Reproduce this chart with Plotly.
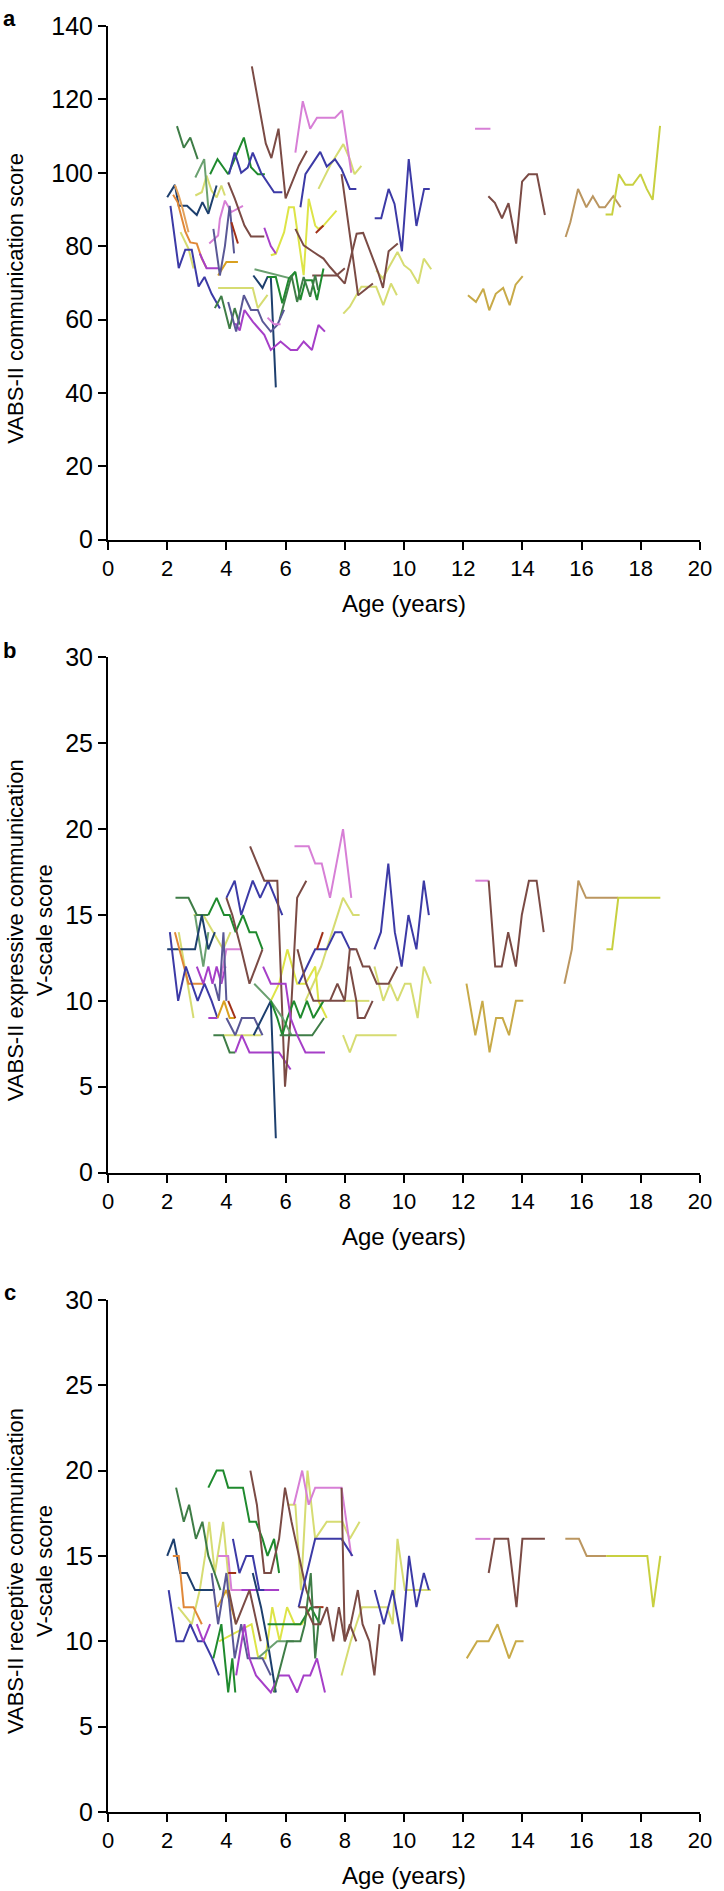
import plotly.graph_objects as go

# ---------------- colours ----------------
COLOR_HEX = {
    "brown": "#7b4b45", "pink": "#d77fd6", "indigo": "#3c3aa6", "dkgreen": "#1f8a2e",
    "mdgreen": "#3f7d47", "sage": "#6aa070", "navy": "#1d3f6e", "orange": "#e08838",
    "orange2": "#e3a25c", "gold": "#d9a020", "purple": "#a63fc8", "slate": "#5a5896",
    "darkred": "#a03018", "yellow": "#dde447", "paleyel": "#d6dc72", "tan": "#bb9660",
    "khaki": "#c8aa48", "oliveyel": "#c8d040",
}

# ---------------- panel a : VABS-II communication score ----------------
A_COLORS = [
    "paleyel", "paleyel", "paleyel", "paleyel", "paleyel", "paleyel", "yellow",
    "sage", "mdgreen", "dkgreen", "indigo", "navy", "indigo", "orange", "orange2",
    "purple", "gold", "pink", "slate", "darkred", "brown", "brown", "pink", "purple",
    "indigo", "brown", "brown", "brown", "darkred", "navy", "sage", "dkgreen",
    "mdgreen", "mdgreen", "purple", "slate", "pink", "indigo", "pink", "brown",
    "khaki", "tan", "oliveyel",
]
A_AGES = [
    [2.45, 2.72, 2.89],
    [2.95, 3.17, 3.33, 3.5, 3.67, 3.83, 3.95],
    [3.72, 4.89, 5.06, 5.39],
    [7.11, 7.5, 7.95, 8.17, 8.33, 8.56],
    [7.95, 8.17, 8.39, 8.56, 9.06, 9.3, 9.56, 9.76],
    [9.06, 9.28, 9.78, 10.0, 10.22, 10.48, 10.67, 10.92],
    [5.5, 5.67, 5.95, 6.11, 6.28, 6.45, 6.61, 6.78, 7.0, 7.11, 7.28, 7.72],
    [2.95, 3.25, 3.4],
    [2.33, 2.56, 2.78, 3.03],
    [3.45, 3.7, 4.06, 4.59, 4.83, 5.06, 5.3],
    [4.09, 4.28, 4.5, 4.72, 4.89, 5.17, 5.61, 5.89],
    [2.0, 2.26, 2.39, 2.67, 3.0, 3.19, 3.39, 3.67],
    [2.11, 2.39, 2.61, 2.83, 3.06, 3.26, 3.5, 3.78],
    [2.2, 2.35, 2.61, 2.78, 3.0, 3.17, 3.33],
    [2.26, 2.39, 2.52, 2.72],
    [3.1, 3.33, 3.72],
    [3.72, 4.0, 4.39],
    [3.42, 3.72, 3.78, 3.95, 4.17, 4.56],
    [3.56, 3.78, 3.95, 4.11, 4.26],
    [4.17, 4.39],
    [4.06, 4.28, 4.61, 4.83, 5.28],
    [4.86, 5.33, 5.52, 5.76, 6.0, 6.45, 6.72],
    [6.33, 6.58, 6.83, 7.06, 7.67, 7.91, 8.22],
    [5.28, 5.5, 5.67],
    [6.5, 6.67, 7.17, 7.39, 7.67, 7.89, 8.17, 8.39],
    [7.89, 8.45, 8.95],
    [6.33, 6.61, 6.94, 7.28, 7.5, 7.78, 8.0, 8.22, 8.4, 8.62, 8.9, 9.12, 9.29, 9.48, 9.79],
    [6.9, 7.72, 8.0],
    [7.02, 7.28],
    [4.91, 5.22, 5.39, 5.5, 5.67],
    [4.95, 6.17, 6.33],
    [5.39, 5.67, 5.89, 6.11, 6.33, 6.5, 6.67, 6.89, 7.06, 7.28],
    [3.61, 3.83, 4.11, 4.28, 4.45],
    [5.8, 6.0, 6.2, 6.39, 6.61, 6.83, 7.0, 7.1],
    [4.3, 4.45, 4.61, 4.89, 5.28, 5.5, 5.83, 6.17, 6.39, 6.61, 6.89, 7.11, 7.33],
    [4.06, 4.33, 4.59, 4.83, 5.06, 5.22, 5.5, 5.72, 5.95],
    [5.39, 5.61, 5.83],
    [9.01, 9.23, 9.48, 9.68, 9.93, 10.16, 10.42, 10.68, 10.87],
    [12.4, 12.92],
    [12.85, 13.07, 13.31, 13.53, 13.79, 13.99, 14.21, 14.49, 14.76],
    [12.16, 12.43, 12.68, 12.88, 13.1, 13.35, 13.57, 13.77, 14.01],
    [15.46, 15.62, 15.88, 16.16, 16.38, 16.6, 16.79, 17.07, 17.32],
    [16.81, 17.03, 17.26, 17.48, 17.73, 17.99, 18.2, 18.4, 18.65],
]
A_SCORES = [
    [83.8, 79.3, 73.9],
    [93.8, 94.7, 99.2, 95.1, 93.3, 96.5, 93.8],
    [68.6, 68.6, 63.1, 66.7],
    [95.6, 101.9, 107.8, 103.7, 99.6, 101.9],
    [61.6, 63.5, 66.6, 68.9, 68.9, 63.9, 69.8, 66.6],
    [73.4, 71.2, 78.4, 74.8, 73.4, 69.8, 76.6, 73.7],
    [77.5, 77.9, 83.8, 90.6, 90.6, 81.1, 72.1, 92.9, 85.6, 84.7, 85.6, 89.7],
    [98.7, 103.7, 89.3],
    [112.7, 106.8, 109.6, 103.7],
    [99.6, 103.7, 99.6, 109.6, 101.5, 99.6, 99.6],
    [99.6, 105.5, 100.0, 101.4, 105.5, 100.0, 94.7, 94.7],
    [93.3, 96.7, 91.0, 91.0, 88.5, 92.0, 88.8, 96.5],
    [91.0, 74.0, 79.0, 79.0, 69.0, 71.6, 67.0, 63.0],
    [94.0, 92.0, 84.0, 81.0, 80.7, 76.6, 74.0],
    [96.6, 93.8, 90.2, 83.8],
    [78.0, 74.0, 74.0],
    [72.0, 75.7, 75.7],
    [80.7, 82.9, 87.4, 92.4, 89.3, 91.0],
    [84.7, 72.0, 80.0, 91.0, 78.0],
    [86.5, 80.7],
    [97.4, 93.0, 85.6, 82.6, 82.6],
    [129.0, 108.0, 104.0, 112.0, 93.0, 102.0, 106.0],
    [105.5, 119.5, 112.0, 115.0, 115.0, 117.0, 100.0],
    [85.0, 80.0, 78.0],
    [90.6, 99.6, 105.7, 101.7, 103.7, 101.0, 95.6, 95.6],
    [99.6, 66.6, 69.8],
    [84.7, 80.2, 78.4, 76.6, 74.3, 71.6, 69.8, 77.5, 83.4, 83.6, 77.9, 73.0, 68.6, 78.6, 80.7],
    [72.0, 72.0, 74.0],
    [83.6, 85.6],
    [72.0, 68.6, 71.6, 71.6, 41.5],
    [73.7, 71.2, 73.0],
    [71.6, 71.6, 64.4, 71.2, 73.0, 65.3, 70.7, 70.7, 65.3, 73.9],
    [63.1, 66.4, 57.5, 63.1, 58.6],
    [60.0, 66.0, 72.0, 64.8, 71.6, 66.2, 72.1, 68.0],
    [59.0, 57.0, 62.6, 59.4, 55.8, 51.7, 54.0, 51.7, 51.7, 54.0, 51.7, 58.5, 56.7],
    [64.8, 56.7, 66.6, 62.6, 62.6, 59.5, 56.7, 58.5, 62.6],
    [60.5, 58.7, 58.7],
    [87.6, 87.6, 95.6, 91.5, 78.6, 103.7, 85.5, 95.6, 95.6],
    [112.0, 112.0],
    [93.6, 91.8, 87.6, 91.7, 80.7, 97.6, 99.6, 99.6, 88.5],
    [66.6, 64.8, 68.4, 62.5, 67.0, 68.6, 63.9, 69.5, 71.8],
    [82.5, 86.5, 95.6, 90.6, 93.6, 90.6, 90.6, 93.6, 90.6],
    [88.6, 88.6, 99.6, 96.7, 96.7, 99.6, 95.6, 92.6, 112.8],
]

# ---------------- panel b : expressive communication V-scale ----------------
B_COLORS = [
    "paleyel", "paleyel", "paleyel", "paleyel", "paleyel", "paleyel", "paleyel", "yellow",
    "mdgreen", "sage", "dkgreen", "navy", "orange", "indigo", "purple", "pink", "slate",
    "purple", "gold", "darkred", "slate", "mdgreen", "purple", "indigo", "brown", "brown",
    "navy", "sage", "dkgreen", "mdgreen", "purple", "pink", "indigo", "brown", "brown",
    "brown", "darkred", "indigo", "pink", "brown", "khaki", "tan", "oliveyel",
]
B_AGES = [
    [2.39, 2.89],
    [2.89, 3.22, 3.89, 4.14],
    [3.89, 5.17],
    [6.67, 7.2, 7.94, 8.28, 8.5],
    [7.94, 8.17, 8.39, 9.75],
    [7.94, 8.83],
    [9.0, 9.3, 9.53, 9.78, 10.03, 10.22, 10.46, 10.67, 10.91],
    [5.5, 5.78, 6.06, 6.39, 6.67, 7.0, 7.11, 7.39],
    [2.28, 2.72, 3.0, 3.39],
    [2.94, 3.22, 3.39],
    [3.39, 3.67, 3.92, 4.11, 4.31, 4.56, 4.78, 5.0, 5.22],
    [2.0, 2.94, 3.17, 3.39, 3.61],
    [2.26, 2.72, 3.28],
    [2.09, 2.37, 2.63, 3.03, 3.26, 3.5, 3.7],
    [3.0, 3.22, 3.39, 3.53, 3.67, 3.83, 3.97],
    [3.78, 4.0, 4.5],
    [3.6, 3.75, 3.9, 4.0],
    [3.39, 3.7],
    [3.7, 3.92, 4.11, 4.3],
    [4.06, 4.3],
    [4.0, 4.3, 4.52, 4.94, 5.22],
    [3.56, 3.89, 4.11, 4.3],
    [4.3, 4.52, 4.78, 4.94, 5.78, 6.17],
    [4.0, 4.28, 4.5, 4.89, 5.14, 5.41, 5.89],
    [4.0, 4.2, 4.5, 4.78, 5.22],
    [4.8, 5.28, 5.72, 5.98, 6.17, 6.39, 6.7],
    [4.92, 5.5, 5.67],
    [4.94, 5.5, 5.9, 6.2],
    [5.5, 5.72, 5.89, 6.06, 6.28, 6.5, 6.72, 6.94, 7.28],
    [5.8, 6.5, 6.9, 7.3],
    [5.24, 5.5, 6.0, 6.17, 6.39, 6.67, 7.33],
    [6.3, 6.78, 7.0, 7.22, 7.5, 7.94, 8.22],
    [6.44, 7.0, 7.39, 7.67, 7.89, 8.17, 8.33],
    [6.4, 6.7, 6.94, 7.5, 8.0],
    [7.5, 7.75, 8.0, 8.17, 8.39, 8.61, 8.83, 9.08, 9.48, 9.78],
    [8.17, 8.39, 8.44, 8.67, 8.94],
    [7.06, 7.26],
    [9.0, 9.22, 9.47, 9.69, 9.92, 10.15, 10.42, 10.67, 10.84],
    [12.41, 12.86],
    [12.86, 13.08, 13.3, 13.52, 13.78, 13.98, 14.22, 14.48, 14.72],
    [12.11, 12.41, 12.65, 12.89, 13.11, 13.33, 13.55, 13.78, 14.03],
    [15.42, 15.67, 15.89, 16.15, 17.23],
    [16.84, 17.03, 17.24, 18.66],
]
B_SCORES = [
    [14, 9],
    [15, 15, 13, 14],
    [8, 8],
    [10, 12, 16, 15, 15],
    [8, 7, 8, 8],
    [10, 10],
    [12, 10, 11, 10, 11, 11, 9, 12, 11],
    [10, 11, 13, 11, 11, 12, 10, 9],
    [16, 16, 15, 15],
    [15, 12, 14],
    [15, 16, 15, 15, 14, 15, 14, 14, 13],
    [13, 13, 15, 13, 14],
    [14, 11, 11],
    [14, 10, 12, 10, 11, 10, 9],
    [12, 11, 12, 11, 12, 11, 12],
    [11, 13, 13],
    [11, 10, 14, 10],
    [9, 9],
    [9, 10, 9, 9],
    [10, 9],
    [9, 8, 9, 9, 8],
    [8, 8, 7, 7],
    [7, 8, 7, 7, 7, 6],
    [16, 17, 15, 17, 16, 17, 15],
    [16, 15, 13, 11, 13],
    [19, 17, 17, 5, 9, 16, 17],
    [8, 10, 2],
    [11, 10, 9, 8],
    [10, 9, 8, 9, 10, 9, 10, 9, 10],
    [8, 8, 8, 9],
    [12, 11, 11, 9, 8, 7, 7],
    [19, 19, 18, 18, 16, 20, 16],
    [11, 13, 13, 14, 14, 13, 13],
    [13, 11, 10, 10, 10],
    [10, 11, 10, 13, 13, 12, 12, 11, 11, 12],
    [12, 10, 9, 9, 10],
    [13, 14],
    [13, 14, 18, 14, 12, 15, 13, 17, 15],
    [17, 17],
    [17, 12, 12, 14, 12, 15, 17, 17, 14],
    [11, 8, 10, 7, 9, 9, 8, 10, 10],
    [11, 13, 17, 16, 16],
    [13, 13, 16, 16],
]

# ---------------- panel c : receptive communication V-scale ----------------
C_COLORS = [
    "paleyel", "paleyel", "paleyel", "yellow", "mdgreen", "dkgreen", "navy", "orange",
    "indigo", "purple", "pink", "purple", "gold", "darkred", "darkred", "dkgreen", "slate",
    "brown", "indigo", "navy", "purple", "sage", "brown", "pink", "indigo", "dkgreen",
    "mdgreen", "brown", "brown", "indigo", "pink", "brown", "khaki", "tan", "oliveyel",
]
C_AGES = [
    [2.37, 2.83, 3.1, 3.28, 3.42, 3.61, 3.89, 4.11],
    [6.06, 6.33, 6.52, 6.74, 7.0, 7.39, 7.92, 8.17, 8.5],
    [7.89, 8.2, 8.58, 9.0, 9.43, 9.62, 9.78, 10.03, 10.91],
    [3.75, 4.85, 5.08, 5.32, 5.55, 5.8, 6.05, 6.3, 6.55, 6.85],
    [2.3, 2.56, 2.74, 2.97, 3.19, 3.39, 3.6, 3.8],
    [3.39, 3.67, 3.89, 4.06, 4.31, 4.56, 4.78, 5.0, 5.22, 5.39, 5.61, 5.78],
    [2.0, 2.22, 2.44, 2.67, 2.94, 3.61],
    [2.19, 2.39, 2.56, 2.89, 3.17],
    [2.05, 2.31, 2.55, 2.78, 3.04, 3.24, 3.52, 3.75],
    [3.0, 3.22, 3.45],
    [3.72, 4.06, 4.17, 4.5],
    [4.5, 5.0, 5.78],
    [3.7, 4.0, 4.17, 4.33],
    [4.06, 4.33],
    [7.0, 7.28],
    [3.56, 3.83, 4.06, 4.2, 4.3],
    [3.5, 3.72, 4.0, 4.28, 4.5, 4.72, 5.0, 5.22, 5.5],
    [4.08, 4.32, 4.78, 5.16],
    [4.22, 4.44, 4.67, 4.89, 5.11, 5.28],
    [4.89, 5.17, 5.39, 5.67],
    [4.33, 4.61, 4.78, 5.0, 5.5, 5.78, 6.11, 6.39, 6.61, 6.83, 7.06, 7.33],
    [5.06, 5.72, 6.28],
    [4.81, 5.03, 5.28, 5.5, 5.78, 5.98, 6.2, 6.44, 6.7, 6.9, 7.1],
    [6.28, 6.56, 6.78, 7.0, 7.89, 8.22],
    [6.44, 7.0, 7.39, 7.89, 8.26],
    [5.39, 6.24, 6.5, 6.85, 7.16],
    [5.6, 5.75, 6.05, 6.5, 6.65, 6.85, 7.0, 7.16],
    [6.44, 6.67, 6.94, 7.17, 7.4, 7.61, 7.8, 8.0, 8.2, 8.44, 8.6, 8.83, 9.0, 9.17],
    [7.89, 8.0, 8.17, 8.39],
    [9.01, 9.32, 9.62, 9.93, 10.17, 10.42, 10.67, 10.84],
    [12.41, 12.92],
    [12.86, 13.06, 13.52, 13.8, 14.0, 14.76],
    [12.12, 12.47, 12.86, 13.16, 13.55, 13.78, 14.04],
    [15.45, 15.91, 16.17, 16.83],
    [16.83, 18.22, 18.42, 18.66],
]
C_SCORES = [
    [12, 11, 13, 15, 17, 14, 17, 13],
    [18, 18, 13, 20, 16, 17, 17, 16, 17],
    [8, 10, 12, 12, 12, 11, 16, 13, 13],
    [10, 11, 9, 9, 12, 10, 12, 11, 11, 12],
    [19, 17, 18, 16, 17, 15, 14, 13],
    [19, 20, 20, 19, 19, 19, 17, 17, 16, 15, 16, 14],
    [15, 16, 14, 14, 13, 13],
    [15, 15, 12, 12, 11],
    [13, 10, 10, 11, 10, 10, 9, 8],
    [11, 10, 11],
    [15, 15, 13, 13],
    [13, 13, 13],
    [12, 13, 12, 11],
    [14, 14],
    [12, 12],
    [9, 11, 7, 9, 7],
    [14, 11, 14, 9, 11, 9, 9, 9, 8],
    [13, 11, 13, 10],
    [16, 14, 15, 15, 13, 13],
    [14, 12, 10, 7],
    [8, 11, 9, 8, 7, 8, 8, 7, 8, 8, 9, 7],
    [9, 10, 10],
    [20, 18, 14, 14, 16, 19, 17, 15, 13, 12, 12],
    [18, 20, 18, 19, 19, 15],
    [12, 16, 16, 16, 15],
    [11, 11, 11, 12, 11],
    [7, 8, 10, 10, 11, 14, 9, 12],
    [12, 12, 11, 11, 12, 10, 12, 10, 11, 13, 11, 10, 8, 11],
    [19, 10, 11, 10],
    [13, 11, 13, 10, 15, 12, 14, 13],
    [16, 16],
    [14, 16, 16, 12, 16, 16],
    [9, 10, 10, 11, 9, 10, 10],
    [16, 16, 15, 15],
    [15, 15, 12, 15],
]

# ---------------- axes / labels ----------------
X_TICKS = [0, 2, 4, 6, 8, 10, 12, 14, 16, 18, 20]
A_YTICKS = [0, 20, 40, 60, 80, 100, 120, 140]
BC_YTICKS = [0, 5, 10, 15, 20, 25, 30]
PANEL_LETTERS = ["a", "b", "c"]
Y_TITLES = [
    "VABS-II communication score",
    "VABS-II expressive communication<br>V-scale score",
    "VABS-II receptive communication<br>V-scale score",
]
X_TITLE = "Age (years)"

FONT = "Liberation Sans, Arial, Helvetica, sans-serif"
W, H = 724, 1891
PLOT_L = 108.3
PLOT_W = 600
M_L = PLOT_L
M_R = W - PLOT_L - PLOT_W
# panel rows (top, bottom) in page pixels
PANEL_PX = [(16, 532.5), (651, 1169), (1297, 1812)]
M_T = PANEL_PX[0][0]
M_B = H - PANEL_PX[2][1]
PH = H - M_T - M_B


def dom(top, bot):
    return [(H - M_B - bot) / PH, (H - M_B - top) / PH]


fig = go.Figure()
panels = [
    (A_COLORS, A_AGES, A_SCORES, "x", "y"),
    (B_COLORS, B_AGES, B_SCORES, "x2", "y2"),
    (C_COLORS, C_AGES, C_SCORES, "x3", "y3"),
]
for colors, ages, scores, xa, ya in panels:
    for c, xs, ys in zip(colors, ages, scores):
        fig.add_trace(go.Scatter(
            x=xs, y=ys, mode="lines", xaxis=xa, yaxis=ya,
            line=dict(color=COLOR_HEX[c], width=2),
            showlegend=False, hoverinfo="skip",
        ))

axis_common = dict(
    showline=True, linecolor="black", linewidth=2,
    ticks="outside", ticklen=8, tickwidth=2, tickcolor="black",
    showgrid=False, zeroline=False,
)
layout = dict(
    width=W, height=H,
    margin=dict(l=M_L, r=M_R, t=M_T, b=M_B, pad=0),
    paper_bgcolor="white", plot_bgcolor="white",
    font=dict(family=FONT, color="black"),
    showlegend=False,
)
yranges = [[0, 140], [0, 30], [0, 30]]
yticks = [A_YTICKS, BC_YTICKS, BC_YTICKS]
for i in range(3):
    sx = "" if i == 0 else str(i + 1)
    top, bot = PANEL_PX[i]
    layout["xaxis" + sx] = dict(
        axis_common, domain=[0, 1], range=[0, 20], tickvals=X_TICKS,
        anchor="y" + sx, tickfont=dict(size=22, family=FONT, color="black"),
    )
    layout["yaxis" + sx] = dict(
        axis_common, domain=dom(top, bot), range=yranges[i], tickvals=yticks[i],
        anchor="x" + sx, tickfont=dict(size=25, family=FONT, color="black"),
    )
fig.update_layout(**layout)

ann = []
for i in range(3):
    sx = "" if i == 0 else str(i + 1)
    top, bot = PANEL_PX[i]
    hgt = bot - top
    # panel letter
    ann.append(dict(
        text="<b>%s</b>" % PANEL_LETTERS[i], xref="paper", x=(8.5 - M_L) / PLOT_W,
        yref="y%s domain" % sx, y=1 + 7.5 / hgt, xanchor="center", yanchor="middle",
        showarrow=False, font=dict(size=22, family=FONT, color="black"),
    ))
    # y title
    xc = 14.5 if i == 0 else 30
    ann.append(dict(
        text=Y_TITLES[i], xref="paper", x=(xc - M_L) / PLOT_W,
        yref="y%s domain" % sx, y=0.47, xanchor="center", yanchor="middle",
        textangle=-90, showarrow=False, align="center",
        font=dict(size=22, family=FONT, color="black"),
    ))
    # x title
    ann.append(dict(
        text=X_TITLE, xref="x%s domain" % sx, x=0.5,
        yref="y%s domain" % sx, y=-64 / hgt, xanchor="center", yanchor="middle",
        showarrow=False, font=dict(size=24, family=FONT, color="black"),
    ))
fig.update_layout(annotations=ann)

# remove the browser's default 8px body margin so the figure sits at the page origin
fig.write_html(
    "out.html",
    config={"displayModeBar": False},
    post_script="document.body.style.margin='0';document.body.style.overflow='hidden';",
)
